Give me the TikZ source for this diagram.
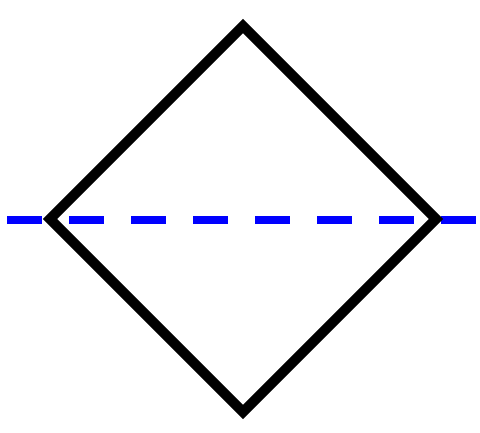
\documentclass[tikz,border=0pt]{standalone}
\begin{document}
\begin{tikzpicture}[x=1pt, y=-1pt,
    frame/.style={draw, line width=10pt, line join=miter},
    axisline/.style={blue, line width=7.5pt, dash pattern=on 35pt off 27pt}]
    \useasboundingbox (0,0) rectangle (480,432);
    \coordinate (top) at (243,26);
    \coordinate (right) at (436,219);
    \coordinate (bottom) at (243,412);
    \coordinate (left) at (50,219);
    \coordinate (start) at (7,220);
    \coordinate (end) at (480,220);
    \draw[axisline] (start) -- (end);
    \draw[frame] (top) -- (right) -- (bottom) -- (left) -- cycle;
\end{tikzpicture}
\end{document}
